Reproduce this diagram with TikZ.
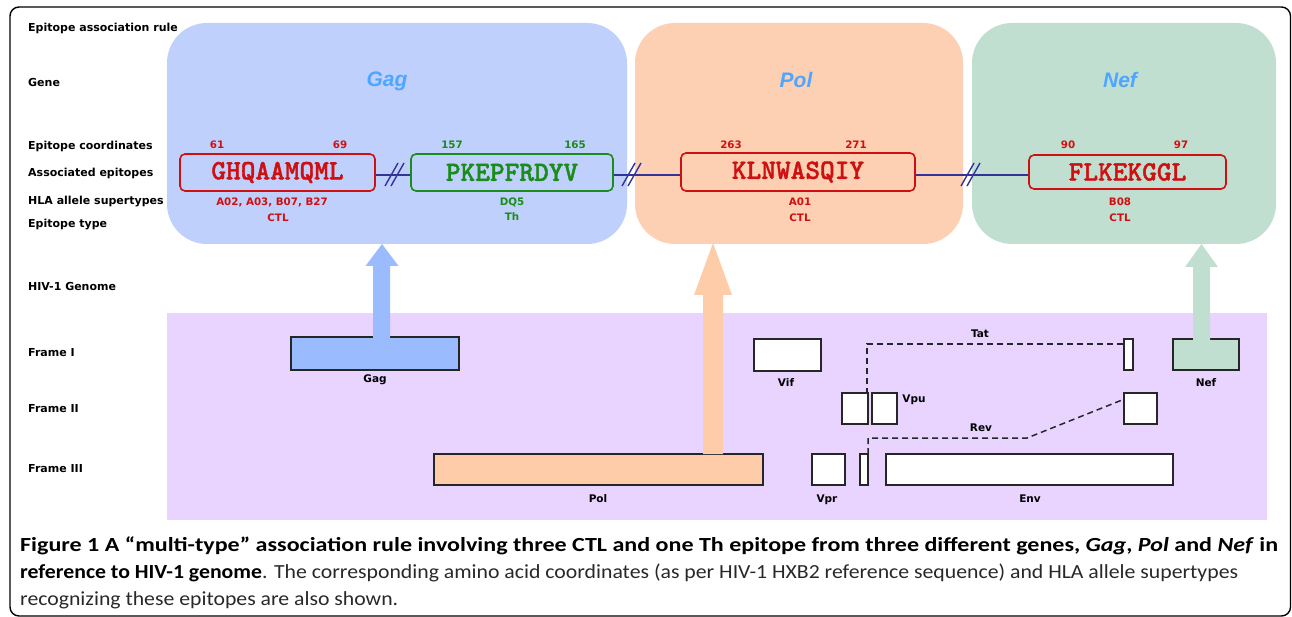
\documentclass[tikz,border=0pt]{standalone}
\usepackage{fontspec}
\setmainfont{DejaVu Sans}
\newfontfamily\lblfont{DejaVu Sans}
\newfontfamily\genefont{Liberation Sans}
\newfontfamily\capfont{Carlito}
\newfontfamily\epifont{lmmonolt10-bold.otf}[FakeBold=1.4]
\newlength{\capw}
\newcommand{\fitline}[2]{\settowidth{\capw}{#2}\pgfmathsetmacro{\capsx}{#1/\capw}\scalebox{\capsx}[1]{#2}}
\definecolor{gagbg}{RGB}{192,208,252}
\definecolor{polbg}{RGB}{253,208,180}
\definecolor{nefbg}{RGB}{193,223,208}
\definecolor{genomebg}{RGB}{232,212,255}
\definecolor{gagfill}{RGB}{155,187,255}
\definecolor{polfill}{RGB}{255,204,170}
\definecolor{neffill}{RGB}{193,223,208}
\definecolor{genecol}{RGB}{77,166,255}
\definecolor{epired}{RGB}{208,16,16}
\definecolor{epigreen}{RGB}{26,140,26}
\definecolor{navy}{RGB}{51,51,153}
\definecolor{capgray}{RGB}{40,40,40}
\tikzset{
  rowlabel/.style={anchor=west,inner sep=0pt,font=\lblfont\bfseries\fontsize{11}{12}\selectfont},
  genename/.style={inner sep=0pt,text=genecol,font=\genefont\bfseries\itshape\fontsize{21}{24}\selectfont},
  epibox/.style={draw,line width=1.6pt,rounded corners=5pt,inner sep=0pt,font=\epifont\fontsize{28}{30}\selectfont},
  small/.style={inner sep=0pt,font=\lblfont\bfseries\fontsize{10.3}{12}\selectfont},
  orf/.style={draw=black!85,line width=1.5pt,fill=white},
  orflabel/.style={inner sep=0pt,font=\lblfont\bfseries\fontsize{10.5}{12}\selectfont},
  conn/.style={draw=navy,line width=1.6pt},
  brk/.style={draw=navy,line width=1.4pt},
  dashline/.style={draw=black!85,line width=1.5pt,dash pattern=on 6pt off 4pt},
  capline/.style={anchor=base west,inner sep=0pt,text=capgray,font=\capfont\fontsize{20}{22}\selectfont}
}
\begin{document}
\begin{tikzpicture}[x=1pt,y=-1pt]
\useasboundingbox (0,0) rectangle (1292,617);
% outer frame
\draw[line width=1.4pt,rounded corners=9pt] (10,7) rectangle (1290.5,616);

% gene background panels
\fill[gagbg,rounded corners=40pt] (167,23) rectangle (627,244);
\fill[polbg,rounded corners=40pt] (635,23) rectangle (963,244);
\fill[nefbg,rounded corners=40pt] (972,23) rectangle (1276,244);

% genome panel
\fill[genomebg] (167,313) rectangle (1267,520);

% row labels
\node[rowlabel] (l1) at (28,28) {Epitope association rule};
\node[rowlabel] (l2) at (28,82) {Gene};
\node[rowlabel] (l3) at (28,146) {Epitope coordinates};
\node[rowlabel] (l4) at (28,173) {Associated epitopes};
\node[rowlabel] (l5) at (28,202) {HLA allele supertypes};
\node[rowlabel] (l6) at (28,225) {Epitope type};
\node[rowlabel] (l7) at (28,286) {HIV-1 Genome};
\node[rowlabel] (l8) at (28,353) {Frame I};
\node[rowlabel] (l9) at (28,409) {Frame II};
\node[rowlabel] (l10) at (28,469) {Frame III};

% gene names
\node[genename] (gGag) at (387,81) {Gag};
\node[genename] (gPol) at (796,80) {Pol};
\node[genename] (gNef) at (1120,80) {Nef};

% connectors (behind boxes)
\coordinate (c1a) at (375,175);
\coordinate (c1b) at (411,175);
\coordinate (c2a) at (613,175);
\coordinate (c2b) at (681,175);
\coordinate (c3a) at (915,175);
\coordinate (c3b) at (1029,175);
\draw[conn] (c1a) -- (c1b);
\draw[conn] (c2a) -- (c2b);
\draw[conn] (c3a) -- (c3b);
% break marks
\draw[brk] (385,186) -- (398,163);
\draw[brk] (391,186) -- (404,163);
\draw[brk] (622,186) -- (635,163);
\draw[brk] (628,186) -- (641,163);
\draw[brk] (961,186) -- (974,163);
\draw[brk] (967,186) -- (980,163);

% epitope boxes
\node[epibox,draw=epired,fill=gagbg,text=epired,minimum width=195pt,minimum height=37pt] (e1) at (277.5,172.5) {GHQAAMQML};
\node[epibox,draw=epigreen,fill=gagbg,text=epigreen,minimum width=202pt,minimum height=37pt] (e2) at (512,172.5) {PKEPFRDYV};
\node[epibox,draw=epired,fill=polbg,text=epired,minimum width=234pt,minimum height=38pt] (e3) at (798,172) {KLNWASQIY};
\node[epibox,draw=epired,fill=nefbg,text=epired,minimum width=197pt,minimum height=34pt] (e4) at (1127.5,172) {FLKEKGGL};

% coordinates
\node[small,text=epired] (n61) at (217,145) {61};
\node[small,text=epired] (n69) at (340,145) {69};
\node[small,text=epigreen] (n157) at (452,145) {157};
\node[small,text=epigreen] (n165) at (575,145) {165};
\node[small,text=epired] (n263) at (731,145) {263};
\node[small,text=epired] (n271) at (856,145) {271};
\node[small,text=epired] (n90) at (1068,145) {90};
\node[small,text=epired] (n97) at (1181,145) {97};

% HLA and type
\node[small,text=epired] (h1) at (272,202) {A02, A03, B07, B27};
\node[small,text=epired] (t1) at (278,218) {CTL};
\node[small,text=epigreen] (h2) at (512,202) {DQ5};
\node[small,text=epigreen] (t2) at (512,217) {Th};
\node[small,text=epired] (h3) at (800,202) {A01};
\node[small,text=epired] (t3) at (800,218) {CTL};
\node[small,text=epired] (h4) at (1120,202) {B08};
\node[small,text=epired] (t4) at (1120,218) {CTL};

% ORF boxes
\draw[orf,fill=gagfill] (291,337) rectangle (459,370);
\node[orflabel] (oGag) at (375,380) {Gag};
\draw[orf,fill=polfill] (434,454) rectangle (763,485);
\node[orflabel] (oPol) at (598,499) {Pol};
\draw[orf] (754,339) rectangle (821,371);
\node[orflabel] (oVif) at (786,383) {Vif};
\draw[orf] (842,393) rectangle (868,424);
\draw[orf] (872,393) rectangle (897,424);
\node[orflabel] (oVpu) at (914,400) {Vpu};
\draw[orf] (812,454) rectangle (845,485);
\node[orflabel] (oVpr) at (827,500) {Vpr};
\draw[orf] (860,454) rectangle (868,485);
\draw[orf] (886,454) rectangle (1173,485);
\node[orflabel] (oEnv) at (1030,499) {Env};
\draw[orf] (1124,339) rectangle (1133,370);
\draw[orf] (1124,393) rectangle (1157,424);
\draw[orf,fill=neffill] (1173,339) rectangle (1239,370);
\node[orflabel] (oNef) at (1206,383) {Nef};

% splice lines
\draw[dashline] (867,394) -- (867,344) -- (1124,344);
\node[orflabel] (oTat) at (980,334) {Tat};
\draw[dashline] (868,454) -- (868,438) -- (1027,438) -- (1122,400);
\node[orflabel] (oRev) at (981,428) {Rev};

% big arrows
\fill[gagfill] (373,338) -- (373,266) -- (365.5,266) -- (382,244) -- (398.5,266) -- (390,266) -- (390,338) -- cycle;
\fill[polfill] (703,454) -- (703,295) -- (694,295) -- (713,243) -- (732,295) -- (723,295) -- (723,454) -- cycle;
\fill[neffill] (1193,340) -- (1193,267) -- (1185,267) -- (1201.5,244) -- (1218,267) -- (1210,267) -- (1210,340) -- cycle;

% caption
\node[capline] (cap1) at (20,551) {\fitline{1258}{\color{black}\bfseries Figure 1 A “multi-type” association rule involving three CTL and one Th epitope from three different genes, \textit{Gag}, \textit{Pol} and \textit{Nef} in}};
\node[capline] (cap2) at (20,578) {\fitline{1218}{{\color{black}\bfseries reference to HIV-1 genome}. The corresponding amino acid coordinates (as per HIV-1 HXB2 reference sequence) and HLA allele supertypes}};
\node[capline] (cap3) at (20,605) {\fitline{378}{recognizing these epitopes are also shown.}};
\end{tikzpicture}
\end{document}
